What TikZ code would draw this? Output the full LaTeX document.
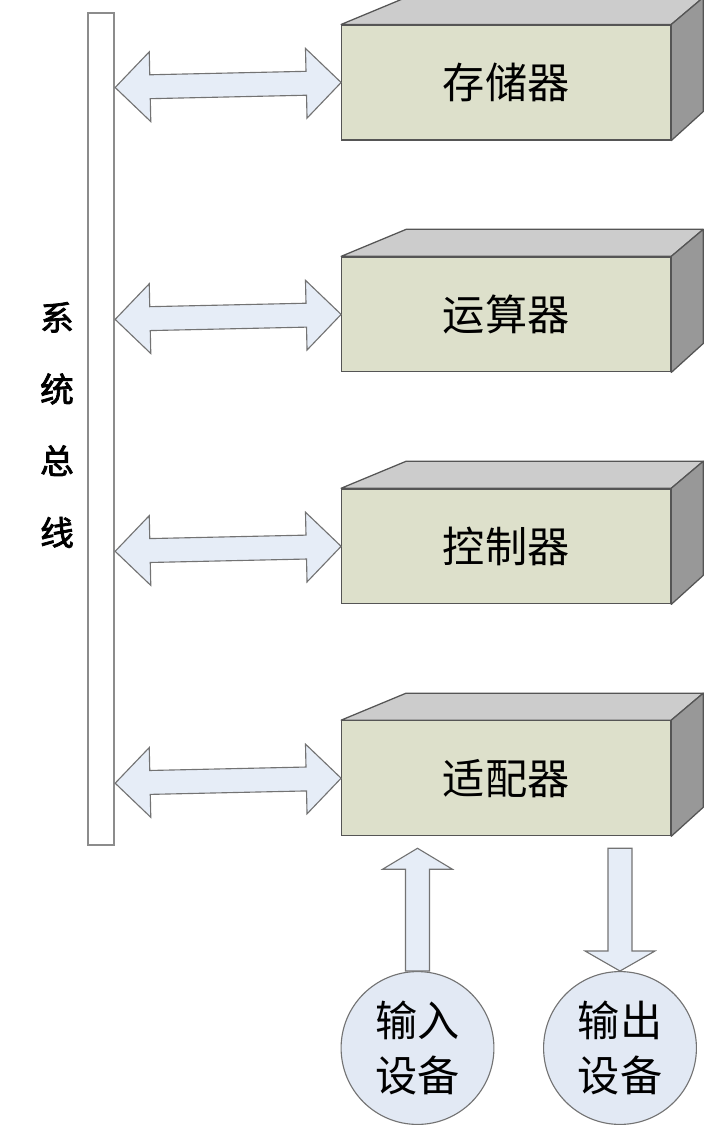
\documentclass[tikz,border=0pt]{standalone}
\usepackage{fontspec}
\newfontfamily\cjk{Noto Sans CJK SC}
\newfontfamily\cjkbold[AutoFakeBold=2.2]{Noto Sans CJK SC}
\usepackage{tikz}
\usetikzlibrary{calc}

% fat block arrows: [head length]{start}{end}, sizes in pt
\newcommand{\headwid}{24.8}
\newcommand{\shaftwid}{8.5}
\newcommand{\fatdouble}[3][24.8]{%
  \path[fatarrow] let \p1=(#2), \p2=(#3),
      \n1={veclen(\x2-\x1,\y2-\y1)},
      \n2={(\x2-\x1)/\n1}, \n3={(\y2-\y1)/\n1} in
    (\p1)
    -- ({\x1+#1*\n2-\headwid*\n3},{\y1+#1*\n3+\headwid*\n2})
    -- ({\x1+#1*\n2-\shaftwid*\n3},{\y1+#1*\n3+\shaftwid*\n2})
    -- ({\x2-#1*\n2-\shaftwid*\n3},{\y2-#1*\n3+\shaftwid*\n2})
    -- ({\x2-#1*\n2-\headwid*\n3},{\y2-#1*\n3+\headwid*\n2})
    -- (\p2)
    -- ({\x2-#1*\n2+\headwid*\n3},{\y2-#1*\n3-\headwid*\n2})
    -- ({\x2-#1*\n2+\shaftwid*\n3},{\y2-#1*\n3-\shaftwid*\n2})
    -- ({\x1+#1*\n2+\shaftwid*\n3},{\y1+#1*\n3-\shaftwid*\n2})
    -- ({\x1+#1*\n2+\headwid*\n3},{\y1+#1*\n3-\headwid*\n2})
    -- cycle;}
\newcommand{\fatsingle}[3][24.8]{%
  \path[fatarrow] let \p1=(#2), \p2=(#3),
      \n1={veclen(\x2-\x1,\y2-\y1)},
      \n2={(\x2-\x1)/\n1}, \n3={(\y2-\y1)/\n1} in
    ({\x1-\shaftwid*\n3},{\y1+\shaftwid*\n2})
    -- ({\x2-#1*\n2-\shaftwid*\n3},{\y2-#1*\n3+\shaftwid*\n2})
    -- ({\x2-#1*\n2-\headwid*\n3},{\y2-#1*\n3+\headwid*\n2})
    -- (\p2)
    -- ({\x2-#1*\n2+\headwid*\n3},{\y2-#1*\n3-\headwid*\n2})
    -- ({\x2-#1*\n2+\shaftwid*\n3},{\y2-#1*\n3-\shaftwid*\n2})
    -- ({\x1+\shaftwid*\n3},{\y1-\shaftwid*\n2})
    -- cycle;}

\begin{document}
\begin{tikzpicture}[x=0.025cm,y=-0.025cm,
  unitbox/.style={draw=boxline,fill=boxfront,line width=0.9pt,inner sep=0pt,
    minimum width=8.22cm,minimum height=2.87cm,font=\cjk\fontsize{30}{36}\selectfont},
  topface/.style={draw=boxline,fill=boxtop,line width=0.9pt,line join=round},
  sideface/.style={draw=boxline,fill=boxside,line width=0.9pt,line join=round},
  fatarrow/.style={draw=arrline,fill=arrfill,line width=0.8pt,line join=miter},
  busbar/.style={draw=busline,fill=white,line width=1.2pt,inner sep=0pt,
    minimum width=0.65cm,minimum height=20.8cm},
  device/.style={circle,draw=arrline,fill=devfill,line width=0.8pt,inner sep=0pt,
    minimum size=3.82cm,align=center,font=\cjk\fontsize{30}{39}\selectfont}]
% Define colours
\definecolor{boxfront}{RGB}{221,224,203}
\definecolor{boxtop}{RGB}{204,204,204}
\definecolor{boxside}{RGB}{152,152,152}
\definecolor{boxline}{RGB}{85,85,85}
\definecolor{arrfill}{RGB}{230,237,247}
\definecolor{devfill}{RGB}{226,233,244}
\definecolor{arrline}{RGB}{115,115,115}
\definecolor{busline}{RGB}{140,140,140}

\useasboundingbox (0,0) rectangle (720,1125);

% System bus
\node[busbar] (bus) at (101.3,429.2) {};
\node[align=center,font=\cjkbold\bfseries\fontsize{24}{51}\selectfont] (buslbl) at (57,425) {系\\统\\总\\线};

% Units
\node[unitbox] (mem) at (506.2,82.5) {存储器};
\node[unitbox] (alu) at (506.2,314.4) {运算器};
\node[unitbox] (ctl) at (506.2,546.3) {控制器};
\node[unitbox] (adp) at (506.2,778.2) {适配器};

% 3D faces
\foreach \b in {mem,alu,ctl,adp}{
  \path[topface] (\b.north west) -- ++(65,-27) -- ($(\b.north east)+(32,-27)$) -- (\b.north east) -- cycle;
  \path[sideface] (\b.north east) -- ++(32,-27) -- ($(\b.south east)+(32,-29)$) -- (\b.south east) -- cycle;
}

% Bus links
\foreach \b in {mem,alu,ctl,adp}
  \fatdouble{$(bus.east |- \b.west)+(0,5)$}{\b.west};

% Input / output devices
\node[device] (inp) at (417.5,1048) {输入\\设备};
\node[device] (outp) at (620,1048) {输出\\设备};
\fatsingle[14.9]{inp.north}{$(inp.north |- adp.south)+(0,12)$};
\fatsingle[14.2]{$(outp.north |- adp.south)+(0,12)$}{outp.north};
\end{tikzpicture}
\end{document}
